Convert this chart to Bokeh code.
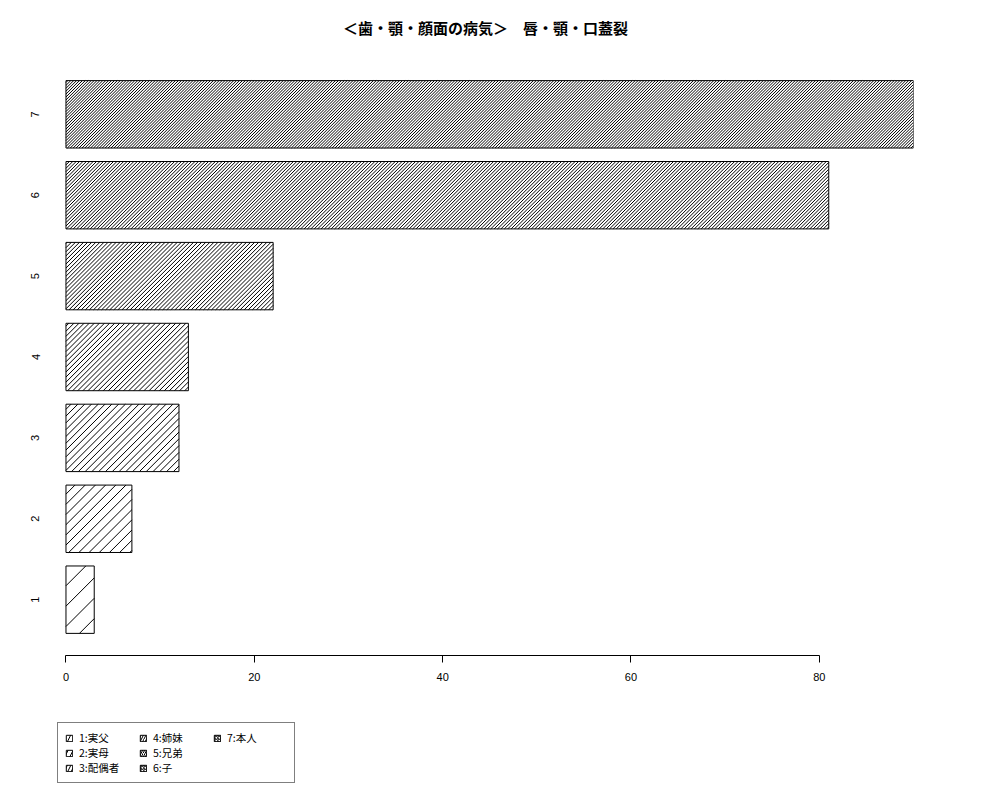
import math

from bokeh.embed import file_html
from bokeh.layouts import column
from bokeh.models import (ColumnDataSource, FixedTicker, Label, Legend, LegendItem,
                          Range1d)
from bokeh.plotting import figure
from bokeh.resources import INLINE

## data
categories = ["1", "2", "3", "4", "5", "6", "7"]
values = [3, 7, 12, 13, 22, 81, 90]
legend_labels = ["1:実父", "2:実母", "3:配偶者", "4:姉妹", "5:兄弟", "6:子", "7:本人"]
densities = [5, 10, 15, 20, 25, 30, 35]
x_ticks = [0, 20, 40, 60, 80]

title = "＜歯・顎・顔面の病気＞　唇・顎・口蓋裂"

## R barplot geometry: width 1, space 0.2
centers = [0.7 + i * 1.2 for i in range(len(values))]
y_lo, y_hi = 0.2, centers[-1] + 0.5
pad = 0.04 * (y_hi - y_lo)
x_start, x_end = -0.01 * max(values), max(values)
y_start, y_end = y_lo - pad, y_hi + pad

W = 984
left, right, bottom = 57, 71, 45
frame_h = 597
H = frame_h + bottom

## shading lines at 45 degrees on screen, `density` lines per inch (72 dpi)
kx = (W - left - right) / (x_end - x_start)
ky = frame_h / (y_end - y_start)
hx0, hy0, hx1, hy1 = [], [], [], []
for cy, v, d in zip(centers, values, densities):
    step = math.sqrt(2) * 72 / d
    X0, X1 = 0, v * kx
    Y0, Y1 = (cy - 0.5) * ky, (cy + 0.5) * ky
    c = math.floor((X0 - Y1) / step) * step
    while c <= X1 - Y0:
        ya = max(Y0, X0 - c)
        yb = min(Y1, X1 - c)
        if yb > ya:
            hx0.append((ya + c) / kx)
            hy0.append(ya / ky)
            hx1.append((yb + c) / kx)
            hy1.append(yb / ky)
        c += step

source = ColumnDataSource(dict(
    y=centers, right=values, left=[0] * len(values),
    sc=[max(3, round(math.sqrt(2) * 72 / d)) for d in densities],
))


def strip(height):
    f = figure(width=W, height=height, x_range=Range1d(0, 1), y_range=Range1d(0, 1),
               output_backend="svg", toolbar_location=None, title_location=None,
               x_axis_location=None, y_axis_location=None,
               min_border_left=0, min_border_right=0,
               min_border_top=0, min_border_bottom=0)
    f.outline_line_color = None
    f.grid.visible = False
    return f


## title strip
tf = strip(58)
tf.add_layout(Label(x=0.5, y=0.54, text=title, text_align="center", text_baseline="middle",
                    text_font="Noto Sans CJK JP", text_font_size="15px",
                    text_font_style="bold", text_color="black"))

## main chart
p = figure(
    width=W, height=H,
    x_range=Range1d(x_start, x_end),
    y_range=Range1d(y_start, y_end),
    output_backend="svg", toolbar_location=None, title_location=None,
    min_border_left=left, min_border_right=right,
    min_border_top=0, min_border_bottom=bottom,
)
p.outline_line_color = None
p.grid.visible = False
p.background_fill_color = "white"

p.hbar(y="y", left="left", right="right", height=1, source=source,
       fill_color="white", line_color=None)
p.segment(x0=hx0, y0=hy0, x1=hx1, y1=hy1, line_color="black", line_width=1)
p.hbar(y="y", left="left", right="right", height=1, source=source,
       fill_color=None, line_color="black", line_width=1)

xa = p.xaxis[0]
xa.ticker = FixedTicker(ticks=x_ticks)
xa.bounds = (0, 80)
xa.axis_line_color = "black"
xa.major_tick_line_color = "black"
xa.major_tick_out = 7
xa.major_tick_in = 0
xa.minor_tick_line_color = None
xa.major_label_standoff = 10
xa.major_label_text_color = "black"
xa.major_label_text_font = "Liberation Sans"
xa.major_label_text_font_size = "11px"

ya = p.yaxis[0]
ya.ticker = FixedTicker(ticks=centers)
ya.major_label_overrides = {c: lab for c, lab in zip(centers, categories)}
ya.axis_line_color = None
ya.major_tick_line_color = None
ya.minor_tick_line_color = None
ya.major_label_orientation = "vertical"
ya.major_label_standoff = 12
ya.major_label_text_color = "black"
ya.major_label_text_font = "Liberation Sans"
ya.major_label_text_font_size = "11px"

## legend strip under the chart
lf = strip(84)
lf.x_range = Range1d(100, 101)
lf.y_range = Range1d(100, 101)
lbars = lf.hbar(y="y", left="left", right="right", height=1, source=source,
                fill_color="white", line_color="black", line_width=1,
                hatch_pattern="/", hatch_color="black", hatch_scale="sc",
                hatch_weight=1)

items = [LegendItem(label=lab, renderers=[lbars], index=i) for i, lab in enumerate(legend_labels)]
legend = Legend(items=items, location=(0, 1), nrows=3, orientation="vertical",
                glyph_width=8, glyph_height=8, label_height=10, label_width=60,
                label_standoff=6, spacing=0, padding=7, margin=0,
                label_text_font="Noto Sans CJK JP", label_text_font_size="10.5px",
                label_text_color="black",
                border_line_color="black", border_line_width=1,
                background_fill_color="white", background_fill_alpha=1)
lf.add_layout(legend, "center")

layout = column(tf, p, lf, spacing=0)
open("out.html", "w").write(file_html(layout, INLINE))
